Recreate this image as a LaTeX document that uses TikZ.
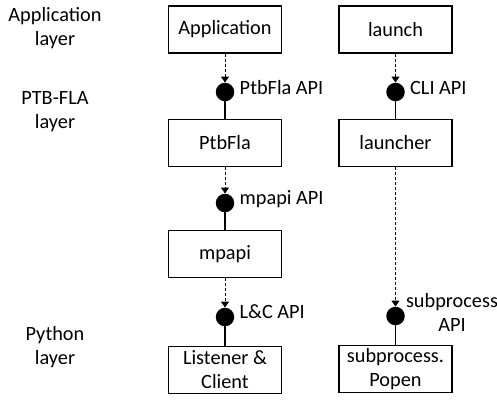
\documentclass[tikz,border=0pt]{standalone}
\usepackage{fontspec}
\setmainfont{Carlito}
\usetikzlibrary{arrows.meta}
\begin{document}
\begin{tikzpicture}[x=1pt,y=-1pt,
  every node/.style={font=\fontsize{20.3}{24}\selectfont, inner sep=0pt, align=center},
  box/.style={draw, line width=1.2pt, minimum width=113pt, minimum height=47pt},
  ball/.style={circle, fill=black, minimum size=18.5pt},
  call/.style={line width=0.9pt, dash pattern=on 3pt off 2pt, -{Triangle[width=8pt,length=6pt]}},
  link/.style={line width=1.1pt},
  lbl/.style={anchor=west}]
\useasboundingbox (0,0) rectangle (497,400);
% layer labels
\node (l1) at (55,28.5) {Application\\layer};
\node (l2) at (55,112) {PTB-FLA\\layer};
\node (l3) at (55,347) {Python\\layer};
% column 1
\node[box] (app) at (225,29.5) {Application};
\node[box] (ptb) at (225,143) {PtbFla};
\node[box] (mp) at (225,254) {mpapi};
\node[box] (lc) at (225,370) {Listener \&\\Client};
% column 2
\node[box] (lau) at (395.5,29.5) {launch};
\node[box] (lr) at (395.5,143) {launcher};
\node[box] (sp) at (395.5,369) {subprocess.\\Popen};
% balls
\node[ball] (b1) at (225,92) {};
\node[ball] (b2) at (225,203) {};
\node[ball] (b3) at (225,317) {};
\node[ball] (b4) at (395.5,92) {};
\node[ball] (b5) at (395.5,316) {};
% labels
\node[lbl] (t1) at ([xshift=5pt,yshift=4pt]b1.east) {PtbFla API};
\node[lbl] (t2) at ([xshift=5pt,yshift=4pt]b2.east) {mpapi API};
\node[lbl] (t3) at ([xshift=5pt,yshift=5pt]b3.east) {L\&C API};
\node[lbl] (t4) at ([xshift=5pt,yshift=4pt]b4.east) {CLI API};
\node (t5) at (452,312) {subprocess\\API};
% connectors
\draw[call] (app.south) -- (b1.north);
\draw[link] (b1.south) -- (ptb.north);
\draw[call] (ptb.south) -- (b2.north);
\draw[link] (b2.south) -- (mp.north);
\draw[call] (mp.south) -- (b3.north);
\draw[link] (b3.south) -- (lc.north);
\draw[call] (lau.south) -- (b4.north);
\draw[link] (b4.south) -- (lr.north);
\draw[call] (lr.south) -- (b5.north);
\draw[link] (b5.south) -- (sp.north);
\end{tikzpicture}
\end{document}
